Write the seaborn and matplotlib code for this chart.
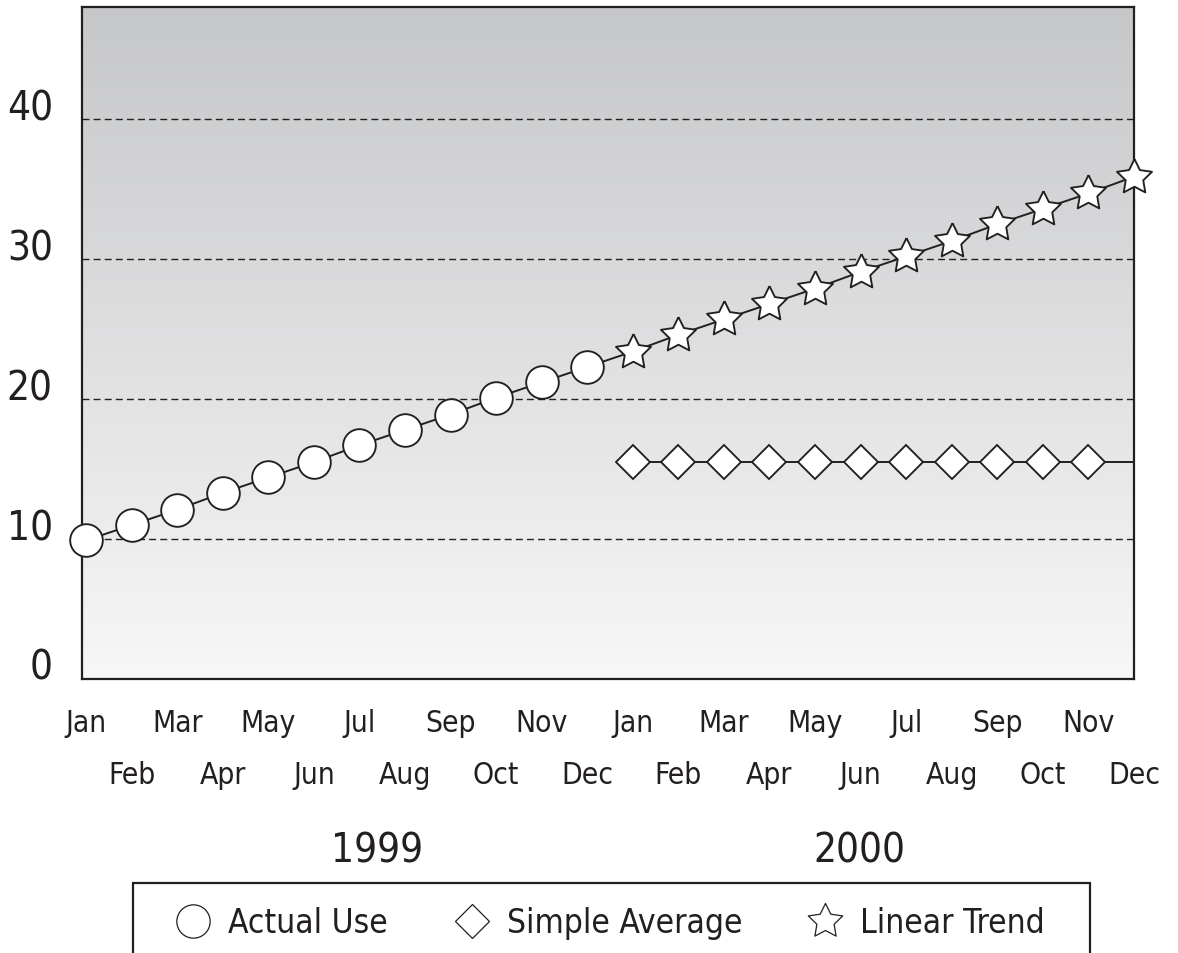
import numpy as np
import pandas as pd
import matplotlib
matplotlib.use("Agg")
import matplotlib.pyplot as plt
from matplotlib.colors import LinearSegmentedColormap
from matplotlib.lines import Line2D
from matplotlib.patches import Rectangle
import seaborn as sns

# ---------------- data ----------------
months = ["Jan", "Feb", "Mar", "Apr", "May", "Jun",
          "Jul", "Aug", "Sep", "Oct", "Nov", "Dec"]
years = ["1999", "2000"]
actual_use = [9.9, 11.0, 12.1, 13.3, 14.4, 15.5, 16.7, 17.8, 18.9, 20.1, 21.2, 22.3]
simple_average = [15.5, 15.5, 15.5, 15.5, 15.5, 15.5, 15.5, 15.5, 15.5, 15.5, 15.5, 15.5]
linear_trend = [23.4, 24.6, 25.7, 26.8, 27.9, 29.1, 30.2, 31.3, 32.5, 33.6, 34.7, 35.9]
y_ticks = [0, 10, 20, 30, 40]
legend_labels = ["Actual Use", "Simple Average", "Linear Trend"]

INK = "#231f20"

# fat five-pointed star marker shape (style only)
_ang = np.deg2rad(90 + 36 * np.arange(10))
_rad = np.where(np.arange(10) % 2 == 0, 1.0, 0.5)
STAR = [(float(r * np.cos(a)), float(r * np.sin(a))) for r, a in zip(_rad, _ang)]
STAR.append(STAR[0])

sns.set_theme(style="white")
plt.rcParams["font.family"] = ["DejaVu Sans"]
plt.rcParams["font.stretch"] = "condensed"
plt.rcParams["text.color"] = INK

n = len(months)
x_1999 = list(range(n))
x_2000 = list(range(n, 2 * n))

fig = plt.figure(figsize=(11.78, 9.54), dpi=100)
ax = fig.add_axes([82 / 1178, 1 - 680 / 954, (1134 - 82) / 1178, (680 - 8.3) / 954])

xmin, xmax = -0.088, 2 * n - 1
ymin, ymax = 0, 48

# gradient background
cmap = LinearSegmentedColormap.from_list("bg", ["#c6c7c9", "#f7f7f7"])
ax.imshow(np.linspace(0, 1, 256).reshape(-1, 1), cmap=cmap, aspect="auto",
          extent=[xmin, xmax, ymin, ymax], origin="upper", zorder=0)

MEW = 1.35
LW = 1.4

# simple average (line to Dec, markers Jan-Nov)
sns.lineplot(x=x_2000, y=simple_average, ax=ax, color=INK, lw=LW,
             marker="D", markersize=17, markerfacecolor="white",
             markeredgecolor=INK, markeredgewidth=MEW,
             markevery=list(range(n - 1)), zorder=3, clip_on=False)

# linear trend (continues from last actual point)
sns.lineplot(x=[x_1999[-1]] + x_2000, y=[actual_use[-1]] + linear_trend, ax=ax,
             color=INK, lw=LW, marker=STAR, markersize=26.5,
             markerfacecolor="white", markeredgecolor=INK, markeredgewidth=MEW,
             markevery=list(range(1, n + 1)), zorder=3, clip_on=False)

# actual use
sns.lineplot(x=x_1999, y=actual_use, ax=ax, color=INK, lw=LW,
             marker="o", markersize=23.5, markerfacecolor="white",
             markeredgecolor=INK, markeredgewidth=MEW, zorder=4, clip_on=False)

ax.set_xlim(xmin, xmax)
ax.set_ylim(ymin, ymax)

# axes styling
for side in ["left", "right", "top", "bottom"]:
    ax.spines[side].set_visible(True)
    ax.spines[side].set_color(INK)
    ax.spines[side].set_linewidth(1.6)

ax.set_yticks(y_ticks)
ax.set_yticklabels([str(v) for v in y_ticks])
ax.yaxis.grid(True, linestyle=(0, (5, 3)), color=INK, lw=1.0)
ax.xaxis.grid(False)
ax.tick_params(axis="y", length=0, pad=21, labelsize=29, labelcolor=INK)
for lbl in ax.get_yticklabels():
    lbl.set_verticalalignment("baseline")

ax.set_xticks(x_1999 + x_2000)
ax.set_xticklabels(months + months)
ax.tick_params(axis="x", length=0, pad=21, labelsize=21.5, labelcolor=INK)
for i, tick in enumerate(ax.xaxis.get_major_ticks()):
    if i % 2 == 1:
        tick.set_pad(58)
ax.set_xlabel("")
ax.set_ylabel("")

# year labels
fig.text(377 / 1178, 1 - 863 / 954, years[0], ha="center", va="baseline",
         fontsize=29, color=INK)
fig.text(859 / 1178, 1 - 863 / 954, years[1], ha="center", va="baseline",
         fontsize=29, color=INK)

# legend frame (open at bottom, runs off the figure)
fig.patches.append(Rectangle((133 / 1178, -0.05), (1090 - 133) / 1178,
                             0.05 + 1 - 884 / 954, transform=fig.transFigure,
                             fill=False, edgecolor=INK, lw=1.6))

handles = [
    Line2D([], [], linestyle="", marker="o", markersize=24,
           markerfacecolor="none", markeredgecolor=INK, markeredgewidth=0.9),
    Line2D([], [], linestyle="", marker="D", markersize=17.5,
           markerfacecolor="none", markeredgecolor=INK, markeredgewidth=0.9),
    Line2D([], [], linestyle="", marker=STAR, markersize=26,
           markerfacecolor="none", markeredgecolor=INK, markeredgewidth=0.9),
]
fig.legend(handles, legend_labels, loc="center", ncol=3, frameon=False,
           bbox_to_anchor=(611 / 1178, 1 - 924 / 954), fontsize=24,
           handlelength=1.0, handletextpad=0.55, columnspacing=2.0,
           labelcolor=INK)

fig.savefig("out.png", dpi=100)
